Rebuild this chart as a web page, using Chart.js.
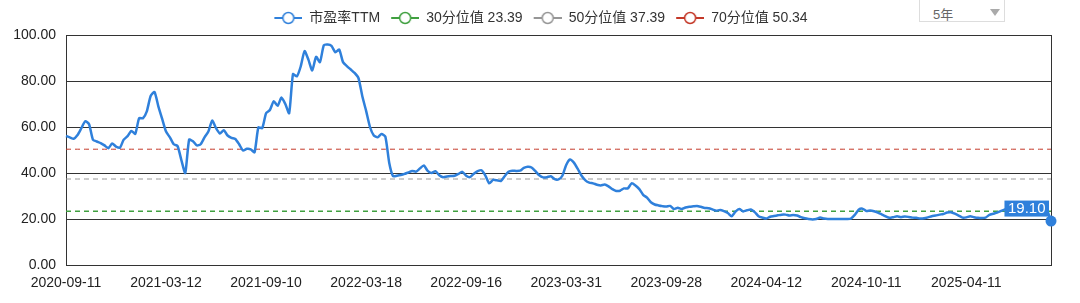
<!DOCTYPE html>
<html>
<head>
<meta charset="utf-8">
<script src="https://cdn.jsdelivr.net/npm/chart.js@4"></script>
<style>
  body { margin: 0; background: #fff; }
  #wrap { position: relative; width: 1080px; height: 303px; overflow: hidden; }
  #range {
    position: absolute; left: 919px; top: -4px; width: 86px; height: 26px;
    border: 1px solid #ddd; background: #fff; box-sizing: border-box;
    font: 13px 'Helvetica Neue', Arial, 'Liberation Sans', 'Noto Sans CJK SC', sans-serif;
    color: #666; padding: 7px 0 0 13px;
  }
  #range .arrow {
    position: absolute; left: 70px; top: 12px; width: 0; height: 0;
    border-left: 5px solid transparent; border-right: 5px solid transparent;
    border-top: 7px solid #aaa;
  }
</style>
</head>
<body>
<div id="wrap">
  <canvas id="pe" width="1080" height="303"></canvas>
  <div id="range">5年<span class="arrow"></span></div>
</div>
<script>
// weekly PE (TTM)
const peValues = [
  56.1, 55.5, 54.9, 56.5, 59.5, 62.5, 61.2, 54.5, 53.7, 53.0,
  52.0, 50.8, 52.8, 51.5, 51.0, 54.5, 56.0, 58.3, 57.0, 63.8,
  63.8, 66.8, 73.5, 75.2, 69.0, 63.5, 58.0, 55.5, 52.5, 51.7,
  45.5, 40.0, 54.5, 53.8, 52.0, 52.5, 55.5, 58.0, 62.8, 59.5,
  57.2, 58.6, 56.3, 55.3, 54.8, 52.5, 49.8, 50.5, 50.3, 49.0,
  59.8, 59.5, 66.0, 67.4, 71.2, 69.2, 72.8, 70.0, 66.0, 83.0,
  82.0, 86.3, 93.0, 89.3, 84.6, 90.5, 88.2, 95.5, 95.9, 95.3,
  92.5, 93.7, 88.2, 86.5, 85.0, 83.5, 81.3, 73.5, 67.0, 60.0,
  56.3, 55.5, 57.0, 55.8, 44.5, 38.6, 38.8, 39.1, 39.6, 40.3,
  40.9, 40.6, 42.0, 43.3, 40.9, 40.0, 40.8, 39.0, 38.2, 38.5,
  38.7, 38.8, 39.6, 40.5, 38.8, 38.2, 39.7, 40.8, 41.2, 38.9,
  35.5, 37.0, 36.8, 36.5, 38.6, 40.5, 41.0, 40.9, 41.0, 42.2,
  42.7, 42.4, 40.8, 39.0, 38.1, 38.2, 38.6, 37.3, 37.2, 38.8,
  43.5, 45.9, 44.5, 41.8, 38.8, 36.8, 35.8, 35.5, 34.9, 34.6,
  35.0, 34.2, 33.0, 32.2, 32.3, 33.3, 33.3, 35.5, 34.6, 33.0,
  30.5, 29.3, 27.3, 26.3, 25.9, 25.6, 25.4, 25.7, 24.3, 24.9,
  24.3, 25.0, 25.3, 25.5, 25.7, 25.3, 24.8, 24.7, 24.2, 23.6,
  23.9, 23.4, 22.6, 21.2, 23.2, 24.3, 23.3, 23.8, 24.1, 23.0,
  21.2, 20.6, 20.2, 21.0, 21.3, 21.6, 21.9, 21.9, 21.5, 21.7,
  21.5, 20.8, 20.3, 20.0, 19.8, 20.0, 20.6, 20.2, 20.0, 20.0,
  20.0, 20.0, 20.0, 20.0, 20.2, 21.8, 24.0, 24.5, 23.5, 23.7,
  23.4, 22.8, 22.0, 21.2, 20.5, 20.8, 21.2, 20.8, 21.1, 20.9,
  20.6, 20.5, 20.2, 20.3, 20.7, 21.2, 21.5, 21.9, 22.2, 22.8,
  22.9, 22.3, 21.5, 20.6, 20.7, 21.2, 20.8, 20.5, 20.4, 20.6,
  21.8, 22.3, 22.8, 23.5, 24.2, 24.4, 24.6, 24.3, 24.5, 24.8,
  24.6, 24.4, 24.7, 24.5, 24.2, 23.6, 19.1
];

const tickLabels = [
  "2020-09-11", "2021-03-12", "2021-09-10", "2022-03-18", "2022-09-16",
  "2023-03-31", "2023-09-28", "2024-04-12", "2024-10-11", "2025-04-11"
];
const labelStep = 26;

const p30 = 23.39;
const p50 = 37.39;
const p70 = 50.34;

const FONT = "'Helvetica Neue', Helvetica, Arial, 'Liberation Sans', 'Noto Sans CJK SC', sans-serif";
const BLUE = "rgb(47,128,219)";
const GREEN = "rgb(64,160,64)";
const GREY = "rgb(150,150,150)";
const RED = "rgb(196,56,40)";
const GRID = "#333";

Chart.defaults.font.family = FONT;
Chart.defaults.font.size = 14;
Chart.defaults.color = "#222";

const categories = peValues.map((_, i) => i);

function legendIcon(color) {
  const c = document.createElement("canvas");
  c.width = 34;
  c.height = 14;
  const g = c.getContext("2d");
  g.strokeStyle = color;
  g.lineWidth = 2;
  g.beginPath();
  g.moveTo(6, 7);
  g.lineTo(34, 7);
  g.stroke();
  g.beginPath();
  g.arc(20, 7, 5.5, 0, Math.PI * 2);
  g.fillStyle = "#fff";
  g.fill();
  g.lineWidth = 1.5;
  g.stroke();
  return c;
}

function levelLine(label, value, color, width) {
  return {
    label: label + " " + value.toFixed(2),
    data: categories.map(() => value),
    borderColor: color,
    borderWidth: width,
    borderDash: [5, 4],
    pointRadius: 0,
    order: 1,
  };
}

const lastLabel = {
  id: "lastLabel",
  afterDatasetsDraw(chart) {
    const meta = chart.getDatasetMeta(0);
    const pt = meta.data[meta.data.length - 1];
    const txt = peValues[peValues.length - 1].toFixed(2);
    const ctx = chart.ctx;
    ctx.save();
    ctx.font = "15px " + FONT;
    const w = ctx.measureText(txt).width + 7;
    const h = 16;
    const x = pt.x - 2 - w;
    const y = pt.y - 4.5 - h;
    ctx.fillStyle = BLUE;
    ctx.fillRect(x, y, w, h);
    ctx.fillStyle = "#fff";
    ctx.textBaseline = "middle";
    ctx.fillText(txt, x + 3.5, y + h / 2 + 0.5);
    ctx.restore();
  },
};

const datasets = [
  {
    label: "市盈率TTM",
    data: peValues,
    borderColor: BLUE,
    backgroundColor: BLUE,
    borderWidth: 2.5,
    tension: 0.2,
    pointRadius: (c) => (c.dataIndex === peValues.length - 1 ? 5.5 : 0),
    pointBackgroundColor: BLUE,
    pointBorderWidth: 0,
    clip: false,
    order: 0,
  },
  levelLine("30分位值", p30, GREEN, 1.5),
  levelLine("50分位值", p50, GREY, 1),
  levelLine("70分位值", p70, RED, 1),
];
const icons = [BLUE, GREEN, GREY, RED].map(legendIcon);

new Chart(document.getElementById("pe"), {
  type: "line",
  data: { labels: categories, datasets },
  plugins: [lastLabel],
  options: {
    responsive: false,
    animation: false,
    devicePixelRatio: 1,
    layout: { padding: { left: 0, right: 4, top: 0, bottom: 0 } },
    plugins: {
      tooltip: { enabled: false },
      legend: {
        position: "top",
        labels: {
          usePointStyle: true,
          pointStyleWidth: 34,
          padding: 5,
          color: "#333",
          font: { size: 14 },
          generateLabels: (chart) =>
            chart.data.datasets.map((ds, i) => ({
              text: ds.label,
              pointStyle: icons[i],
              fillStyle: "transparent",
              strokeStyle: "transparent",
              lineWidth: 0,
              hidden: false,
              datasetIndex: i,
              fontColor: "#333",
            })),
        },
      },
    },
    scales: {
      x: {
        grid: { display: false, drawTicks: false },
        border: { display: true, color: GRID, width: 1 },
        ticks: {
          autoSkip: false,
          maxRotation: 0,
          padding: 10,
          color: "#222",
          callback: (v, i) => (i % labelStep === 0 ? tickLabels[i / labelStep] || "" : ""),
        },
        afterFit: (s) => { s.height = 38; },
      },
      y: {
        min: 0,
        max: 100,
        ticks: {
          stepSize: 20,
          padding: 10,
          color: "#222",
          callback: (v) => v.toFixed(2),
        },
        grid: { color: GRID, lineWidth: 1, drawTicks: false },
        border: { display: true, color: GRID, width: 1 },
        afterFit: (s) => { s.width = 66; s.paddingTop = 35; },
      },
      y2: {
        position: "right",
        min: 0,
        max: 100,
        ticks: { display: false },
        grid: { display: false, drawTicks: false },
        border: { display: true, color: GRID, width: 1 },
        afterFit: (s) => { s.width = 25; },
      },
    },
  },
});
</script>
</body>
</html>
